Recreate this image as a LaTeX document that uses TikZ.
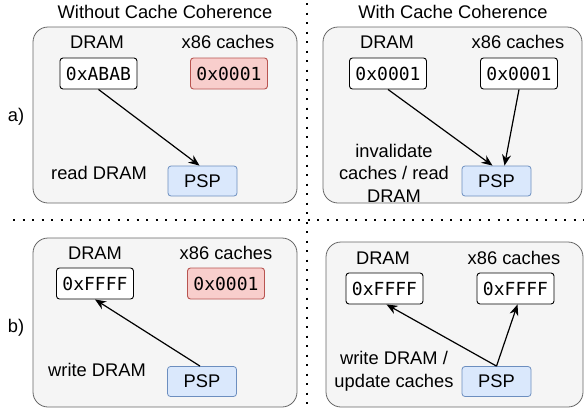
\documentclass[tikz,border=0pt]{standalone}
\usepackage{fontspec}
\setmainfont{Liberation Sans}
\setmonofont{DejaVu Sans Mono}
\usetikzlibrary{arrows.meta, positioning}

\begin{document}
\begin{tikzpicture}[x=1pt, y=-1pt, font=\fontsize{18.3}{22.5}\selectfont]
\tikzstyle{panel} = [rectangle, rounded corners=15pt, draw=black!60, fill=black!4, line width=0.8pt]
\tikzstyle{value} = [rectangle, rounded corners=3pt, minimum width=77pt, minimum height=31pt, draw=black, fill=white, line width=0.9pt, font=\fontsize{18}{20}\ttfamily]
\tikzstyle{stale} = [value, draw={rgb,255:red,184;green,84;blue,80}, fill={rgb,255:red,248;green,206;blue,204}]
\tikzstyle{psp} = [rectangle, rounded corners=3pt, minimum width=69pt, minimum height=30pt, draw={rgb,255:red,108;green,142;blue,191}, fill={rgb,255:red,218;green,232;blue,252}, line width=0.8pt]
\tikzstyle{arrow} = [line width=1.2pt, -{Stealth[length=11pt,width=9pt]}]
\tikzstyle{divider} = [line width=2pt, dash pattern=on 2pt off 7.5pt]

\useasboundingbox (0,0) rectangle (584,410);

% separators
\draw [divider] (307,3) -- (307,410);
\draw [divider] (13,220) -- (584,220);

% column titles
\node (tWithout) at (165,12) {Without Cache Coherence};
\node (tWith) at (453,12) {With Cache Coherence};
\node (rowA) at (16,117) {a)};
\node (rowB) at (16,328) {b)};

% a) without coherence
\node (pA1) [panel, minimum width=264pt, minimum height=176pt] at (165,115) {};
\node (lDramA1) at (97,42) {DRAM};
\node (lCacheA1) at (228,42) {x86 caches};
\node (dramA1) [value] at (98.5,73.5) {0xABAB};
\node (cacheA1) [stale] at (229,73.5) {0x0001};
\node (pspA1) [psp] at (202.5,181) {PSP};
\node (opA1) at (99,173) {read DRAM};
\draw [arrow] (dramA1.south) -- ([xshift=-3pt]pspA1.north);

% a) with coherence
\node (pA2) [panel, minimum width=259pt, minimum height=176pt] at (452.5,115) {};
\node (lDramA2) at (387,42) {DRAM};
\node (lCacheA2) at (518,42) {x86 caches};
\node (dramA2) [value] at (388,73.5) {0x0001};
\node (cacheA2) [value] at (519,73.5) {0x0001};
\node (pspA2) [psp] at (496.5,181) {PSP};
\node (opA2) [align=center] at (394,173) {invalidate\\caches / read\\DRAM};
\draw [arrow] (dramA2.south) -- ([xshift=-4pt]pspA2.north);
\draw [arrow] (cacheA2.south) -- ([xshift=8pt]pspA2.north);

% b) without coherence
\node (pB1) [panel, minimum width=264pt, minimum height=169pt] at (165,322.5) {};
\node (lDramB1) at (95,253) {DRAM};
\node (lCacheB1) at (226,253) {x86 caches};
\node (dramB1) [value] at (95,283.5) {0xFFFF};
\node (cacheB1) [stale] at (226,283.5) {0x0001};
\node (pspB1) [psp] at (202,381.5) {PSP};
\node (opB1) at (97,370) {write DRAM};
\draw [arrow] ([xshift=-2pt]pspB1.north) -- (dramB1.south);

% b) with coherence
\node (pB2) [panel, minimum width=257pt, minimum height=165pt] at (454.5,324.5) {};
\node (lDramB2) at (383,258) {DRAM};
\node (lCacheB2) at (514,258) {x86 caches};
\node (dramB2) [value] at (384.5,288.5) {0xFFFF};
\node (cacheB2) [value] at (515.5,288.5) {0xFFFF};
\node (pspB2) [psp] at (496.5,381.5) {PSP};
\node (opB2) [align=center] at (394,371.5) {write DRAM /\\update caches};
\draw [arrow] (pspB2.north) -- ([xshift=2pt]dramB2.south);
\draw [arrow] (pspB2.north) -- ([xshift=2pt]cacheB2.south);
\end{tikzpicture}
\end{document}
